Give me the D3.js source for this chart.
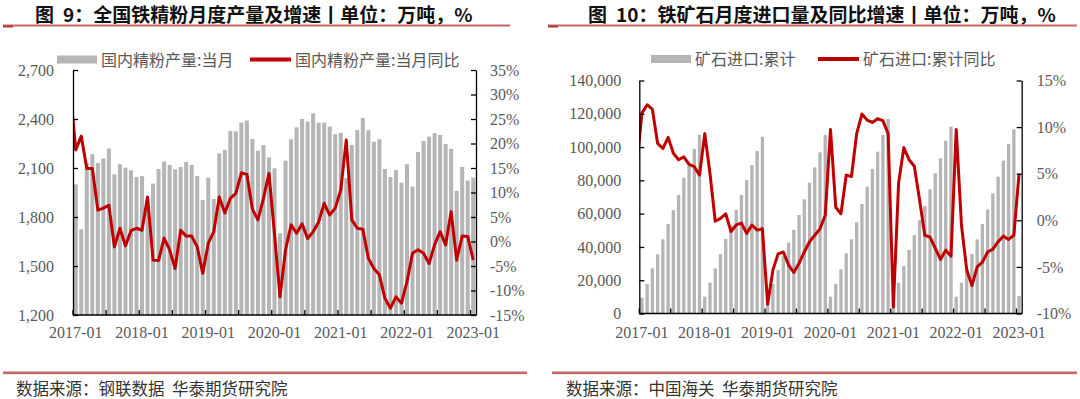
<!DOCTYPE html>
<html>
<head>
<meta charset="utf-8">
<script src="https://cdn.jsdelivr.net/npm/d3@7"></script>
<style>
  html, body { margin: 0; padding: 0; background: #fff; }
  svg { display: block; }
</style>
</head>
<body>
<div id="chart"></div>
<script>
// 2017-01 .. 2023-01, one category per month
const months = d3.timeMonth
  .range(new Date(2017, 0, 1), new Date(2023, 1, 1))
  .map(d3.timeFormat("%Y-%m"));

// 图9: 国内精粉产量:当月 (万吨)
const concentrateOutput = [
  2000, 1725, 2130, 2184, 2130, 2158, 2220, 2061, 2123, 2102, 2086, 2045,
  2050, 1900, 2005, 2094, 2139, 2119, 2092, 2106, 2137, 2119, 2051, 1904,
  2041, 1910, 2190, 2211, 2327, 2325, 2378, 2390, 2278, 2206, 2241, 2165,
  2098, 1700, 2145, 2276, 2349, 2400, 2384, 2435, 2378, 2378, 2354, 2307,
  2315, 2037, 2241, 2333, 2406, 2331, 2261, 2276, 2094, 2045, 2088, 2010,
  2123, 1986, 2198, 2265, 2292, 2313, 2302, 2247, 2217, 1960, 2106, 2023,
  2041,
];

// 国内精粉产量:当月同比 (%); the 2016-12 point only shows as the clipped start
const concentrateYoyPrior = 31.0;
const concentrateYoy = [
  18.7, 21.5, 14.9, 14.9, 6.4, 6.8, 7.4, -1.1, 2.7, -0.9, 2.2, 2.7,
  2.3, 9.1, -3.8, -3.9, 0.7, -1.7, -5.5, 2.3, 1.1, 1.1, -1.1, -6.5,
  -0.4, 2.0, 9.1, 5.8, 8.8, 9.8, 14.0, 13.7, 6.6, 4.4, 8.8, 13.9,
  1.5, -11.3, -1.7, 3.4, 1.7, 3.6, 0.6, 2.0, 4.0, 7.8, 5.4, 6.8,
  10.5, 20.7, 4.4, 2.7, 2.5, -3.4, -5.5, -6.8, -11.6, -13.6, -11.3, -12.6,
  -8.2, -2.4, -1.7, -2.4, -4.5, -0.7, 2.0, -0.7, 6.1, -3.8, 1.1, 1.0,
  -3.8,
];

// 图10: 矿石进口:累计 (万吨)
const oreImportCum = [
  9500, 17700, 27150, 35600, 44600, 53800, 62200, 71200, 81600, 89200, 98800, 107300,
  10100, 18500, 27100, 35600, 44800, 53200, 62200, 71200, 80200, 89200, 97600, 106200,
  9200, 17700, 26100, 34500, 42560, 50170, 59200, 68600, 78600, 87800, 96860, 107250,
  10100, 17700, 26500, 36150, 44600, 54800, 65800, 76200, 86800, 97200, 107250, 116870,
  9200, 18520, 28540, 38150, 47170, 56180, 64590, 74600, 84220, 93230, 103850, 112260,
  10100, 18520, 27140, 35750, 44560, 53780, 62590, 72200, 82220, 91830, 101850, 110660,
  10500,
];

// 矿石进口:累计同比 (%)
const oreImportYoyPrior = 5.7;
const oreImportYoy = [
  11.5, 12.4, 11.9, 8.25, 7.7, 8.9, 7.2, 6.5, 6.8, 6.0, 5.75, 4.85,
  9.3, 5.0, -0.1, 0.2, 0.7, -1.2, -0.5, -0.3, -1.4, -0.5, -1.05, -0.9,
  -9.0, -5.35, -3.6, -3.4, -4.8, -5.6, -4.6, -3.4, -2.3, -1.6, -0.9, 0.55,
  9.75, 1.4, 0.7, 4.85, 4.7, 9.3, 11.4, 10.75, 10.5, 10.9, 10.7, 9.3,
  -9.3, 4.0, 7.8, 6.5, 5.8, 2.2, -1.6, -1.8, -3.0, -4.2, -3.2, -3.85,
  9.75, -0.5, -5.3, -7.0, -5.0, -4.5, -3.4, -3.1, -2.3, -1.7, -2.05, -1.6,
  5.0,
];

const outputTicks = [1200, 1500, 1800, 2100, 2400, 2700];
const outputPctTicks = [-15, -10, -5, 0, 5, 10, 15, 20, 25, 30, 35];
const importTicks = [0, 20000, 40000, 60000, 80000, 100000, 120000, 140000];
const importPctTicks = [-10, -5, 0, 5, 10, 15];

const BAR_GRAY = "#b5b5b5";
const RED = "#c00000";
const RULE = "#c86767";
const LABEL = "#595959";
const SERIF = "'Liberation Serif', 'Times New Roman', serif";
const CJK = "'Noto Sans CJK SC', 'Noto Sans', sans-serif";

const width = 1080, height = 399;

const svg = d3
  .select("#chart")
  .append("svg")
  .attr("width", width)
  .attr("height", height);

function panel(o) {
  const p = o.plot;
  const g = svg.append("g");

  const x = d3.scaleBand().domain(months).range([p.left, p.right]);
  const step = x.step();
  const cx = (m) => x(m) + step / 2;

  const yBar = d3.scaleLinear().domain(o.barDomain).range([p.bottom, p.top]);
  const yLine = d3.scaleLinear().domain(o.lineDomain).range([p.bottom, p.top]);

  // bars
  g.append("g")
    .attr("fill", BAR_GRAY)
    .selectAll("rect")
    .data(o.bars.map((v, i) => [months[i], v]))
    .join("rect")
    .attr("x", (d) => x(d[0]) + (step * o.barPad) / 2)
    .attr("width", step * (1 - o.barPad))
    .attr("y", (d) => yBar(d[1]))
    .attr("height", (d) => yBar(o.barDomain[0]) - yBar(d[1]));

  // line, clipped to the plot so the prior month only shows as the start
  svg
    .append("clipPath")
    .attr("id", o.id + "-clip")
    .append("rect")
    .attr("x", p.left)
    .attr("y", p.top - 10)
    .attr("width", p.right - p.left)
    .attr("height", p.bottom - p.top + 20);

  const pts = [[x(months[0]) - step / 2, o.linePrior]].concat(
    o.line.map((v, i) => [cx(months[i]), v])
  );

  g.append("path")
    .datum(pts)
    .attr("clip-path", `url(#${o.id}-clip)`)
    .attr("fill", "none")
    .attr("stroke", RED)
    .attr("stroke-width", 3)
    .attr("stroke-linejoin", "round")
    .attr(
      "d",
      d3
        .line()
        .x((d) => d[0])
        .y((d) => yLine(d[1]))
    );

  // left axis
  const axL = g
    .append("g")
    .attr("transform", `translate(${p.left},0)`)
    .call(
      d3
        .axisLeft(yBar)
        .tickValues(o.barTicks)
        .tickSize(-5)
        .tickSizeOuter(0)
        .tickPadding(o.leftPad)
        .tickFormat(d3.format(","))
    );

  // right axis
  const axR = g
    .append("g")
    .attr("transform", `translate(${p.right},0)`)
    .call(
      d3
        .axisRight(yLine)
        .tickValues(o.lineTicks)
        .tickSize(-5)
        .tickSizeOuter(0)
        .tickPadding(o.rightPad)
        .tickFormat((d) => d + "%")
    );

  [axL, axR].forEach((ax) => {
    ax.attr("color", "#000").attr("font-family", SERIF).attr("font-size", 16);
    ax.selectAll("path, line").attr("stroke-width", 1.3);
    ax.selectAll("text").attr("fill", LABEL);
  });

  // bottom axis: ticks every 6 months on band edges, labels on January bars
  const xa = g.append("g").attr("stroke", "#000").attr("stroke-width", 1.3);
  xa.append("line")
    .attr("x1", p.left)
    .attr("x2", p.right)
    .attr("y1", p.bottom)
    .attr("y2", p.bottom);
  xa.selectAll("line.tick")
    .data(months.filter((m, i) => i % 6 === 0))
    .join("line")
    .attr("class", "tick")
    .attr("x1", (d) => x(d))
    .attr("x2", (d) => x(d))
    .attr("y1", p.bottom)
    .attr("y2", p.bottom - 5);

  g.append("g")
    .selectAll("text")
    .data(months.filter((m, i) => i % 12 === 0))
    .join("text")
    .attr("x", (d) => cx(d))
    .attr("y", 338)
    .attr("text-anchor", "middle")
    .attr("font-family", SERIF)
    .attr("font-size", 16)
    .attr("fill", LABEL)
    .text((d) => d);

  // legend
  const lg = o.legend;
  g.append("rect")
    .attr("x", lg.barX)
    .attr("y", lg.y - 4)
    .attr("width", 40)
    .attr("height", 8)
    .attr("fill", BAR_GRAY);
  g.append("line")
    .attr("x1", lg.lineX)
    .attr("x2", lg.lineX + 41)
    .attr("y1", lg.y)
    .attr("y2", lg.y)
    .attr("stroke", RED)
    .attr("stroke-width", 4);

  g.selectAll("text.legend")
    .data([
      [lg.barX + 44, o.barName],
      [lg.lineX + 45, o.lineName],
    ])
    .join("text")
    .attr("class", "legend")
    .attr("x", (d) => d[0])
    .attr("y", lg.y + 6)
    .attr("font-family", CJK)
    .attr("font-size", 16)
    .attr("fill", LABEL)
    .text((d) => d[1]);

  // title with rule underneath
  g.append("text")
    .attr("x", o.titleX)
    .attr("y", 21.5)
    .attr("font-family", CJK)
    .attr("font-weight", "bold")
    .attr("font-size", 19)
    .attr("fill", "#111")
    .text("图");
  g.append("text")
    .attr("x", o.titleNumX)
    .attr("y", 21.5)
    .attr("font-family", CJK)
    .attr("font-weight", "bold")
    .attr("font-size", 19)
    .attr("fill", "#111")
    .text(o.title);

  g.append("rect")
    .attr("x", o.rule[0])
    .attr("y", 24.5)
    .attr("width", o.rule[1] - o.rule[0])
    .attr("height", 2)
    .attr("fill", RULE);
  g.append("rect")
    .attr("x", o.rule[0])
    .attr("y", 25.5)
    .attr("width", 10)
    .attr("height", 2)
    .attr("fill", "#b03a3a");

  // source footer
  g.append("rect")
    .attr("x", o.footRule[0])
    .attr("y", 371.5)
    .attr("width", o.footRule[1] - o.footRule[0])
    .attr("height", 2.6)
    .attr("fill", RULE);
  const src = g
    .append("text")
    .attr("x", o.footX)
    .attr("y", 395)
    .attr("font-family", CJK)
    .attr("font-size", 16.5)
    .attr("fill", "#333")
    .text(o.source[0]);
  src.append("tspan").attr("dx", 7.5).text(o.source[1]);
}

panel({
  id: "output",
  plot: { left: 73, right: 476, top: 70, bottom: 315 },
  bars: concentrateOutput,
  barDomain: [1200, 2700],
  barTicks: outputTicks,
  barPad: 0.27,
  line: concentrateYoy,
  linePrior: concentrateYoyPrior,
  lineDomain: [-15, 35],
  lineTicks: outputPctTicks,
  leftPad: 19,
  rightPad: 14,
  barName: "国内精粉产量:当月",
  lineName: "国内精粉产量:当月同比",
  legend: { barX: 57, lineX: 250, y: 59.5 },
  titleX: 35,
  titleNumX: 63,
  title: "9：全国铁精粉月度产量及增速丨单位：万吨，%",
  rule: [3, 510],
  footRule: [3, 527],
  footX: 16,
  source: ["数据来源：钢联数据", "华泰期货研究院"],
});

panel({
  id: "import",
  plot: { left: 639.3, right: 1021.7, top: 80.5, bottom: 313.5 },
  bars: oreImportCum,
  barDomain: [0, 140000],
  barTicks: importTicks,
  barPad: 0.36,
  line: oreImportYoy,
  linePrior: oreImportYoyPrior,
  lineDomain: [-10, 15],
  lineTicks: importPctTicks,
  leftPad: 18,
  rightPad: 15,
  barName: "矿石进口:累计",
  lineName: "矿石进口:累计同比",
  legend: { barX: 651, lineX: 818, y: 59 },
  titleX: 588,
  titleNumX: 616,
  title: "10：铁矿石月度进口量及同比增速丨单位：万吨，%",
  rule: [548, 1077],
  footRule: [552, 1077],
  footX: 566,
  source: ["数据来源：中国海关", "华泰期货研究院"],
});
</script>
</body>
</html>
